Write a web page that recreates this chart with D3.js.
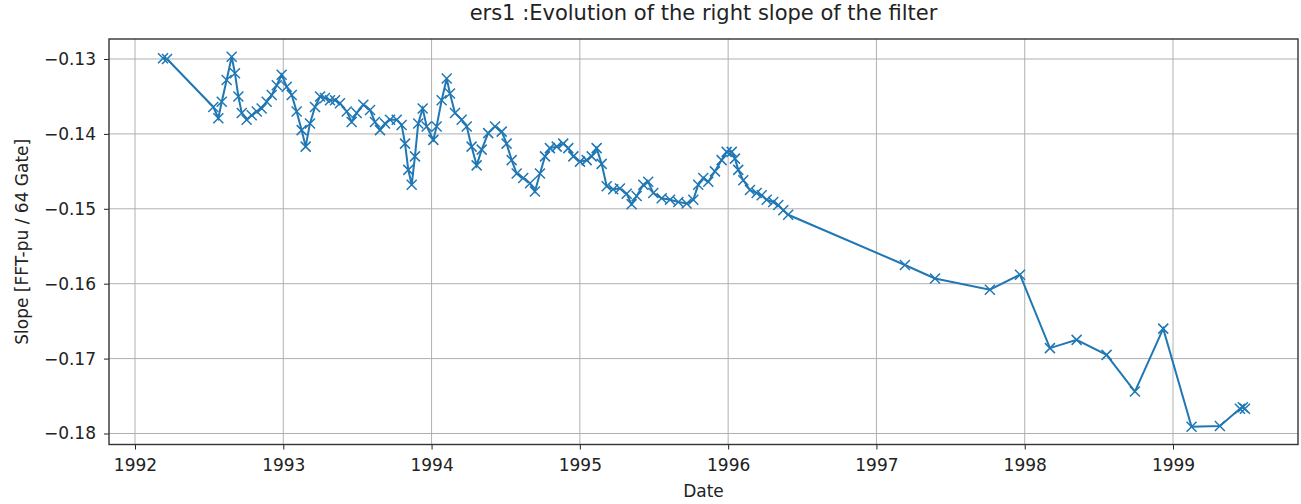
<!DOCTYPE html>
<html>
<head>
<meta charset="utf-8">
<script src="https://d3js.org/d3.v7.min.js"></script>
<style>
  body { margin: 0; background: #fff; }
  text { font-family: "DejaVu Sans", sans-serif; fill: #222; }
</style>
</head>
<body>
<div id="chart"></div>
<script>
const title = "ers1 :Evolution of the right slope of the filter";
const xLabel = "Date";
const yLabel = "Slope [FFT-pu / 64 Gate]";
const xTicks = [1992, 1993, 1994, 1995, 1996, 1997, 1998, 1999];
const yTicks = [-0.13, -0.14, -0.15, -0.16, -0.17, -0.18];

// decimal years
const dates = [
  1992.189, 1992.216, 1992.528, 1992.562, 1992.585, 1992.618, 1992.652, 1992.674, 1992.697, 1992.720,
  1992.753, 1992.787, 1992.821, 1992.854, 1992.888, 1992.922, 1992.956, 1992.989, 1993.023, 1993.057,
  1993.090, 1993.124, 1993.151, 1993.180, 1993.214, 1993.248, 1993.281, 1993.315, 1993.349, 1993.382,
  1993.428, 1993.461, 1993.495, 1993.540, 1993.585, 1993.618, 1993.652, 1993.686, 1993.720, 1993.765,
  1993.798, 1993.821, 1993.843, 1993.866, 1993.888, 1993.910, 1993.940, 1993.967, 1994.012, 1994.034,
  1994.068, 1994.102, 1994.124, 1994.158, 1994.203, 1994.237, 1994.270, 1994.304, 1994.338, 1994.382,
  1994.428, 1994.473, 1994.506, 1994.540, 1994.574, 1994.618, 1994.664, 1994.697, 1994.731, 1994.765,
  1994.798, 1994.844, 1994.888, 1994.922, 1994.956, 1995.001, 1995.046, 1995.080, 1995.113, 1995.147,
  1995.181, 1995.225, 1995.270, 1995.316, 1995.349, 1995.383, 1995.428, 1995.461, 1995.495, 1995.552,
  1995.608, 1995.664, 1995.720, 1995.765, 1995.798, 1995.832, 1995.866, 1995.911, 1995.956, 1995.990,
  1996.024, 1996.046, 1996.068, 1996.102, 1996.147, 1996.192, 1996.226, 1996.260, 1996.304, 1996.338,
  1996.372, 1996.405, 1997.192, 1997.395, 1997.765, 1997.968, 1998.170, 1998.350, 1998.552, 1998.743,
  1998.934, 1999.125, 1999.316, 1999.451, 1999.471, 1999.485
];

const slopes = [
  -0.1299, -0.1300, -0.1364, -0.1379, -0.1357, -0.1328, -0.1297, -0.1319, -0.1350, -0.1372,
  -0.1381, -0.1375, -0.1370, -0.1366, -0.1357, -0.1348, -0.1335, -0.1321, -0.1337, -0.1348,
  -0.1370, -0.1395, -0.1417, -0.1386, -0.1364, -0.1350, -0.1352, -0.1355, -0.1355, -0.1359,
  -0.1370, -0.1384, -0.1372, -0.1361, -0.1368, -0.1384, -0.1395, -0.1386, -0.1381, -0.1381,
  -0.1388, -0.1413, -0.1448, -0.1468, -0.1430, -0.1386, -0.1366, -0.1390, -0.1408, -0.1390,
  -0.1355, -0.1326, -0.1346, -0.1372, -0.1381, -0.1390, -0.1417, -0.1442, -0.1421, -0.1399,
  -0.1390, -0.1397, -0.1413, -0.1435, -0.1453, -0.1459, -0.1466, -0.1477, -0.1453, -0.1430,
  -0.1419, -0.1417, -0.1413, -0.1419, -0.1430, -0.1437, -0.1435, -0.1430, -0.1419, -0.1440,
  -0.1470, -0.1474, -0.1473, -0.1480, -0.1494, -0.1483, -0.1468, -0.1464, -0.1479, -0.1486,
  -0.1488, -0.1491, -0.1493, -0.1488, -0.1468, -0.1459, -0.1464, -0.1450, -0.1435, -0.1424,
  -0.1424, -0.1433, -0.1448, -0.1462, -0.1475, -0.1479, -0.1482, -0.1488, -0.1491, -0.1495,
  -0.1502, -0.1508, -0.1575, -0.1593, -0.1608, -0.1588, -0.1686, -0.1675, -0.1695, -0.1744,
  -0.1660, -0.1791, -0.1790, -0.1767, -0.1765, -0.1767
];

let width = 1301, height = 504;
let margin = {top: 39, right: 3, bottom: 59.5, left: 109};
let innerW = width - margin.left - margin.right;
let innerH = height - margin.top - margin.bottom;

let data = dates.map((d, i) => ({date: d, slope: slopes[i]}));

let svg = d3.select('#chart')
  .append('svg')
  .attr('width', width)
  .attr('height', height);

let x = d3.scaleLinear()
  .domain([1991.8247, 1999.8429])
  .range([0, innerW]);

let y = d3.scaleLinear()
  .domain([-0.18147, -0.12733])
  .range([innerH, 0]);

let g = svg.append('g')
  .attr('transform', 'translate(' + margin.left + ',' + margin.top + ')');

// grid
g.append('g')
  .attr('class', 'grid')
  .selectAll('line.vx')
  .data(xTicks)
  .enter().append('line')
  .attr('x1', d => x(d)).attr('x2', d => x(d))
  .attr('y1', 0).attr('y2', innerH)
  .style('stroke', '#b0b0b0')
  .style('stroke-width', 1);

g.append('g')
  .attr('class', 'grid')
  .selectAll('line.hy')
  .data(yTicks)
  .enter().append('line')
  .attr('x1', 0).attr('x2', innerW)
  .attr('y1', d => y(d)).attr('y2', d => y(d))
  .style('stroke', '#b0b0b0')
  .style('stroke-width', 1);

// axes
let xAxis = g.append('g')
  .attr('transform', 'translate(0,' + innerH + ')')
  .call(d3.axisBottom(x).tickValues(xTicks).tickFormat(d3.format('d')).tickSize(5).tickPadding(9));

xAxis.selectAll('text').style('font-size', '17px');

let yAxis = g.append('g')
  .call(d3.axisLeft(y).tickValues(yTicks).tickFormat(d => d3.format('.2f')(d).replace('-', '\u2212')).tickSize(5).tickPadding(8));

yAxis.selectAll('text').style('font-size', '17px');

[xAxis, yAxis].forEach(a => {
  a.select('.domain').remove();
  a.selectAll('.tick line').style('stroke', '#222').style('stroke-width', 1);
  a.selectAll('text').style('fill', '#222').style('font-family', '"DejaVu Sans", sans-serif');
});

// frame
g.append('rect')
  .attr('width', innerW)
  .attr('height', innerH)
  .style('fill', 'none')
  .style('stroke', '#333')
  .style('stroke-width', 1.4);

// line + x markers
let line = d3.line()
  .x(d => x(d.date))
  .y(d => y(d.slope));

g.append('path')
  .datum(data)
  .attr('d', line)
  .style('fill', 'none')
  .style('stroke', '#1f77b4')
  .style('stroke-width', 2);

g.selectAll('path.marker')
  .data(data)
  .enter().append('path')
  .attr('class', 'marker')
  .attr('transform', d => 'translate(' + x(d.date) + ',' + y(d.slope) + ')')
  .attr('d', 'M-5,-5L5,5M-5,5L5,-5')
  .style('stroke', '#1f77b4')
  .style('stroke-width', 1.5);

// labels
svg.append('text')
  .attr('x', margin.left + innerW / 2)
  .attr('y', 20)
  .attr('text-anchor', 'middle')
  .style('font-size', '21px')
  .text(title);

svg.append('text')
  .attr('x', margin.left + innerW / 2)
  .attr('y', 497)
  .attr('text-anchor', 'middle')
  .style('font-size', '17px')
  .text(xLabel);

svg.append('text')
  .attr('transform', 'translate(28,' + (margin.top + innerH / 2) + ') rotate(-90)')
  .attr('text-anchor', 'middle')
  .style('font-size', '17px')
  .text(yLabel);
</script>
</body>
</html>
